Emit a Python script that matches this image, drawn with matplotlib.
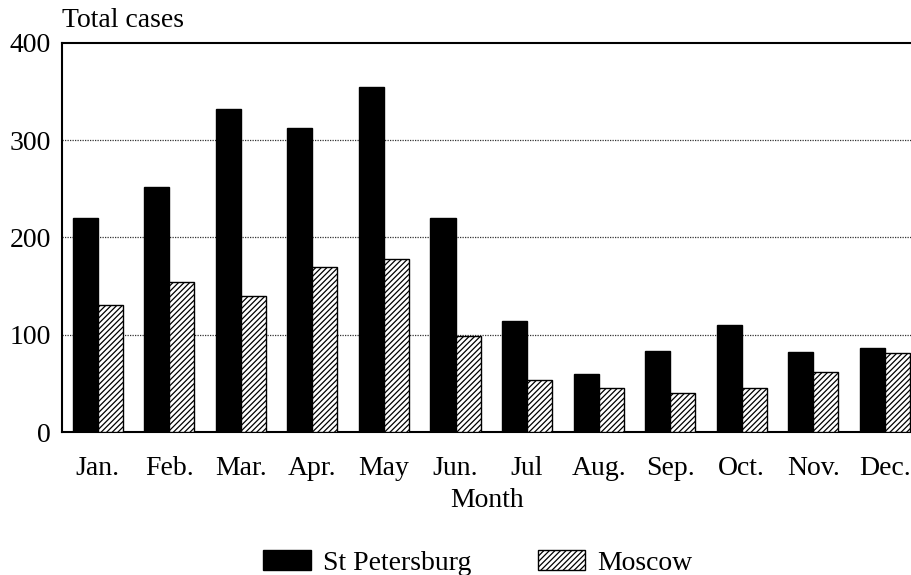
import matplotlib
matplotlib.use("Agg")
import matplotlib.pyplot as plt
import numpy as np
from matplotlib.patches import Patch

# monthly totals
months = ["Jan.", "Feb.", "Mar.", "Apr.", "May", "Jun.", "Jul", "Aug.",
          "Sep.", "Oct.", "Nov.", "Dec."]
st_petersburg = [220, 252, 332, 312, 354, 220, 114, 60, 84, 110, 83, 87]
moscow = [131, 154, 140, 170, 178, 99, 54, 46, 40, 46, 62, 81]
y_ticks = [0, 100, 200, 300, 400]

plt.rcParams.update({
    "font.family": ["Liberation Serif", "DejaVu Serif"],
    "font.size": 20,
    "hatch.linewidth": 0.9,
})

fig = plt.figure(figsize=(9.12, 5.75), dpi=100)
ax = fig.add_axes([0.068, 0.248, 0.932, 0.678])

x = np.arange(len(months))
w = 0.35
ax.bar(x - w / 2, st_petersburg, w, color="black", edgecolor="black",
       linewidth=1, zorder=3)
ax.bar(x + w / 2, moscow, w, color="white", edgecolor="black",
       hatch="//////", linewidth=1, zorder=3)

ax.set_xlim(-0.5, 11.38)
ax.set_ylim(0, 400)
ax.set_yticks(y_ticks)
ax.set_xticks(x)
ax.set_xticklabels(months)
ax.tick_params(axis="both", length=0)
ax.tick_params(axis="y", pad=8)
ax.tick_params(axis="x", pad=17)

for v in y_ticks[1:-1]:
    ax.axhline(v, color="#333333", linewidth=0.9, linestyle=(0, (1, 1)),
               zorder=1)

ax.spines["right"].set_visible(False)
for s in ("left", "top", "bottom"):
    ax.spines[s].set_linewidth(1.5)

ax.set_xlabel("Month", labelpad=5)
ax.text(0.0, 1.025, "Total cases", transform=ax.transAxes, ha="left",
        va="bottom")

handles = [Patch(facecolor="black", edgecolor="black", label="St Petersburg"),
           Patch(facecolor="white", edgecolor="black", hatch="//////",
                 label="Moscow")]
fig.legend(handles=handles, loc="lower center", bbox_to_anchor=(0.524, -0.045),
           ncol=2, frameon=False, handlelength=1.7, handleheight=0.75,
           handletextpad=0.43, columnspacing=2.42)

fig.savefig("out.png", dpi=100)
